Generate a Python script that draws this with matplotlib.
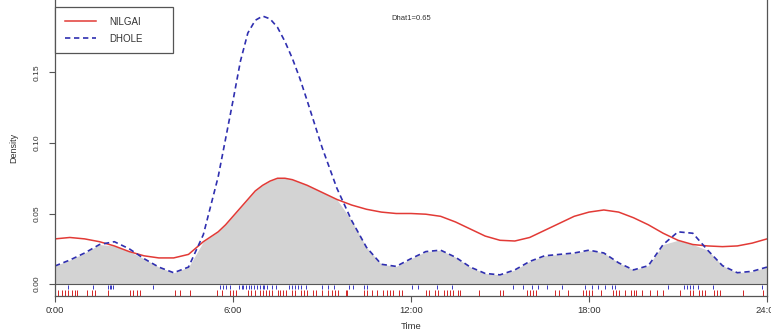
import matplotlib
matplotlib.use("Agg")
import matplotlib.pyplot as plt
import numpy as np

plt.rcParams['font.family'] = ['Liberation Sans', 'DejaVu Sans']

# density curves (half-hour steps, quarter-hours around the dhole peak)
hours = [0.0, 0.5, 1.0, 1.5, 2.0, 2.5, 3.0, 3.5, 4.0, 4.5, 5.0, 5.5, 5.75, 6.0, 6.25,
         6.5, 6.75, 7.0, 7.25, 7.5, 7.75, 8.0, 8.25, 8.5, 9.0, 9.5, 10.0, 10.5, 11.0,
         11.5, 12.0, 12.5, 13.0, 13.5, 14.0, 14.5, 15.0, 15.5, 16.0, 16.5, 17.0, 17.5,
         18.0, 18.5, 19.0, 19.5, 20.0, 20.5, 21.0, 21.5, 22.0, 22.5, 23.0, 23.5, 24.0]
nilgai = [0.032, 0.033, 0.032, 0.030, 0.027, 0.023, 0.020, 0.0185, 0.0185, 0.021,
          0.030, 0.037, 0.042, 0.048, 0.054, 0.060, 0.066, 0.070, 0.073, 0.075, 0.075,
          0.074, 0.072, 0.070, 0.065, 0.060, 0.056, 0.053, 0.051, 0.050, 0.050, 0.0495,
          0.048, 0.044, 0.039, 0.034, 0.031, 0.0305, 0.033, 0.038, 0.043, 0.048, 0.051,
          0.0525, 0.051, 0.047, 0.042, 0.036, 0.031, 0.028, 0.027, 0.0265, 0.027,
          0.029, 0.032]
dhole = [0.0128, 0.017, 0.022, 0.028, 0.030, 0.025, 0.018, 0.012, 0.008, 0.012,
         0.035, 0.076, 0.103, 0.130, 0.158, 0.178, 0.187, 0.190, 0.188, 0.182, 0.172,
         0.160, 0.146, 0.130, 0.097, 0.068, 0.045, 0.026, 0.014, 0.0125, 0.018, 0.023,
         0.024, 0.019, 0.012, 0.0075, 0.0065, 0.010, 0.016, 0.020, 0.021, 0.022,
         0.024, 0.022, 0.015, 0.010, 0.013, 0.028, 0.037, 0.036, 0.024, 0.013, 0.008,
         0.009, 0.012]

# observation times (rug)
dhole_times = [0.44, 1.28, 1.8, 1.85, 1.9, 1.95, 3.3, 5.56, 5.65, 5.75, 5.9, 6.2, 6.3,
               6.35, 6.45, 6.55, 6.6, 6.7, 6.8, 6.9, 7.0, 7.05, 7.15, 7.3, 7.45, 7.9,
               8.0, 8.1, 8.2, 8.3, 8.45, 9.0, 9.2, 9.4, 9.9, 10.05, 10.4, 10.5, 12.03,
               12.23, 12.87, 13.38, 15.44, 15.77, 16.08, 16.28, 16.6, 17.09, 17.86,
               18.1, 18.3, 18.54, 18.77, 18.87, 20.66, 21.2, 21.3, 21.4, 21.5, 21.67,
               22.18, 23.83]
nilgai_times = [0.1, 0.24, 0.34, 0.44, 0.57, 0.67, 0.74, 1.08, 1.25, 1.35, 1.79, 2.53,
                2.63, 2.76, 2.86, 4.04, 4.21, 4.55, 5.46, 5.63, 5.9, 6.0, 6.1, 6.5,
                6.6, 6.75, 6.9, 7.0, 7.1, 7.2, 7.3, 7.5, 7.6, 7.7, 7.8, 8.0, 8.1, 8.3,
                8.4, 8.5, 8.7, 8.8, 9.0, 9.2, 9.35, 9.45, 9.55, 9.8, 9.85, 10.4, 10.5,
                10.7, 10.85, 11.05, 11.2, 11.3, 11.4, 11.6, 11.7, 12.5, 12.6, 12.8,
                12.9, 13.1, 13.2, 13.3, 13.4, 13.6, 13.65, 14.3, 15.0, 15.1, 15.9,
                16.0, 16.1, 16.2, 16.85, 17.0, 17.3, 17.8, 17.9, 18.0, 18.1, 18.4,
                18.8, 18.9, 19.0, 19.2, 19.4, 19.5, 19.6, 19.8, 20.05, 20.3, 20.5,
                21.06, 21.4, 21.5, 21.7, 21.8, 21.9, 22.2, 22.3, 22.4, 23.2, 23.86]

tick_hours = [0, 6, 12, 18, 24]
tick_labels = ["0:00", "6:00", "12:00", "18:00", "24:00"]

red = '#e23a36'
blue = '#2f2fb0'

fig = plt.figure(figsize=(7.71, 3.35), dpi=100)
ax = fig.add_axes([55 / 771, 1 - 296 / 335, 712 / 771, 296 / 335])

overlap = np.minimum(nilgai, dhole)
ax.fill_between(hours, 0, overlap, color='#d3d3d3', lw=0)
ax.plot(hours, nilgai, color=red, lw=1.1, label='NILGAI')
ax.plot(hours, dhole, color=blue, lw=1.2, dashes=(3.2, 2.2), label='DHOLE')
ax.axhline(0, color='#555555', lw=0.8)

ax.vlines(dhole_times, -0.0035, -0.0007, color='#3a3ac4', lw=0.7)
ax.vlines(nilgai_times, -0.0085, -0.0043, color='#d42424', lw=0.7)

ax.set_xlim(0, 24)
ax.set_ylim(-0.0085, 0.2014)
ax.set_xticks(tick_hours)
ax.set_xticklabels(tick_labels)
ax.set_yticks([0, 0.05, 0.10, 0.15])
ax.set_yticklabels(["0.00", "0.05", "0.10", "0.15"], rotation=90, va='center')

for s in ['left', 'right', 'bottom']:
    ax.spines[s].set_color('#555555')
    ax.spines[s].set_linewidth(0.9)
ax.spines['top'].set_visible(False)
ax.tick_params(axis='both', colors='#555555', labelcolor='#333333', length=4.5, width=0.8)
ax.tick_params(axis='x', labelsize=6.8, pad=2.5)
ax.tick_params(axis='y', labelsize=6.0, pad=6)

ax.set_xlabel('Time', fontsize=6.8, color='#333333', labelpad=5)
ax.set_ylabel('Density', fontsize=6.5, color='#333333', labelpad=11)

ax.text(0.5, 1 - 19 / 296, 'Dhat1=0.65', transform=ax.transAxes, ha='center', va='center',
        fontsize=5.5, color='#333333')

leg = ax.legend(loc='upper left', bbox_to_anchor=(0, 0, 118 / 712, 1 - 7 / 296),
                mode='expand', borderaxespad=0,
                fontsize=7, handlelength=3.2, handletextpad=1.4, labelspacing=0.7,
                borderpad=1.0, fancybox=False, framealpha=1)
leg.get_frame().set_edgecolor('#555555')
leg.get_frame().set_linewidth(0.9)
for t in leg.get_texts():
    t.set_color('#333333')

fig.savefig('out.png', dpi=100)
